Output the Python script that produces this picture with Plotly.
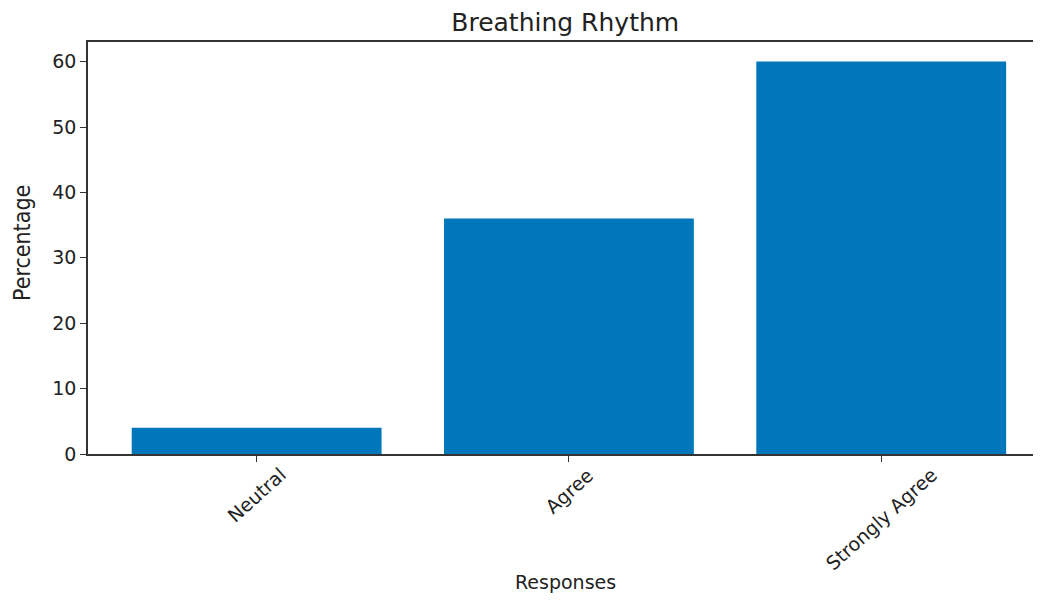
import plotly.graph_objects as go

categories = ["Neutral", "Agree", "Strongly Agree"]
percentages = [4, 36, 60]
y_ticks = [0, 10, 20, 30, 40, 50, 60]

x_pos = list(range(len(categories)))

fig = go.Figure(go.Bar(x=x_pos, y=percentages,
                       width=0.8, marker=dict(color="#0077bb", line=dict(width=0))))

annotations = [
    dict(text="Percentage", xref="paper", yref="paper", x=0, y=0.5,
         xanchor="center", yanchor="middle", xshift=-66, yshift=5, textangle=-90,
         showarrow=False, font=dict(size=23, family="Liberation Sans Narrow, DejaVu Sans Condensed", color="#222")),
    dict(text="Responses", xref="paper", yref="paper", x=0.505, y=0,
         xanchor="center", yanchor="middle", yshift=-128,
         showarrow=False, font=dict(size=19, family="DejaVu Sans", color="#222")),
]
# category labels centred under their ticks, rotated like the reference
for xv, lab in zip(x_pos, categories):
    annotations.append(dict(text=lab, x=xv, y=0, xref="x", yref="y",
                            xanchor="center", yanchor="top", yshift=-7, textangle=-42,
                            showarrow=False, font=dict(size=19, family="DejaVu Sans", color="#222")))

# page body has an 8px margin, so the figure is sized to fit inside it
fig.update_layout(
    width=1025, height=588,
    margin=dict(l=80, r=0, t=34, b=142, autoexpand=False),
    plot_bgcolor="white", paper_bgcolor="white",
    font=dict(family="DejaVu Sans", color="#222", size=19),
    title=dict(text="Breathing Rhythm", x=0.505, xref="paper", xanchor="center",
               y=1 - 14 / 588, yanchor="middle",
               font=dict(size=25, family="DejaVu Sans", color="#222")),
    showlegend=False,
    annotations=annotations,
)
fig.update_xaxes(
    tickmode="array", tickvals=x_pos, showticklabels=False,
    range=[-0.54, 2.486], automargin=False,
    showline=True, linecolor="#333", linewidth=1.5, mirror=True,
    ticks="outside", ticklen=6, tickcolor="#333", showgrid=False, zeroline=False,
)
fig.update_yaxes(
    range=[0, 63], tickvals=y_ticks, automargin=False,
    showline=True, linecolor="#333", linewidth=1.5,
    ticks="outside", ticklen=6, tickcolor="#333", showgrid=False, zeroline=False,
    tickfont=dict(size=19),
)
fig.write_html("out.html")
